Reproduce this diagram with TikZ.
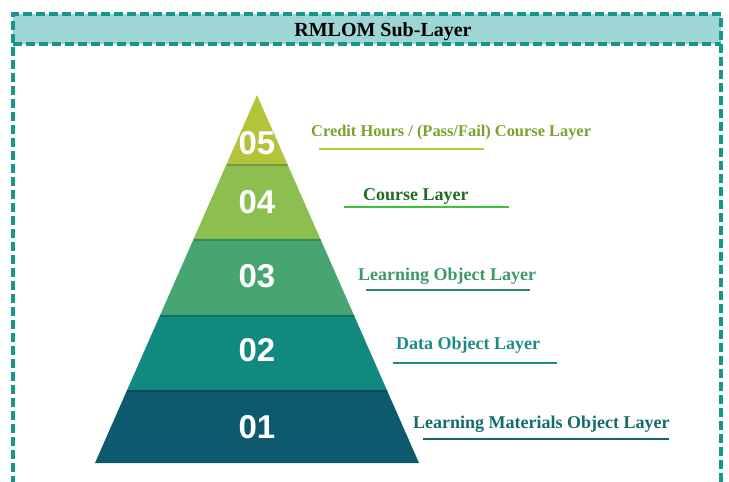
\documentclass[tikz,border=0pt]{standalone}
\usepackage{fontspec}
\setmainfont{Liberation Serif}
\newfontfamily\numfont{Liberation Sans}
\usetikzlibrary{calc}
\definecolor{frameteal}{HTML}{16978C}
\definecolor{headfill}{HTML}{9DD6D4}
\definecolor{cfive}{HTML}{B3C33A}
\definecolor{cfour}{HTML}{8CBE50}
\definecolor{cthree}{HTML}{46A571}
\definecolor{ctwo}{HTML}{12897F}
\definecolor{cone}{HTML}{0D5A6F}
\definecolor{tfive}{HTML}{7DA02D}
\definecolor{tfour}{HTML}{1F6E20}
\definecolor{tthree}{HTML}{3B9A68}
\definecolor{ttwo}{HTML}{1B8B87}
\definecolor{tone}{HTML}{126C6C}
\definecolor{ufive}{HTML}{A8D13A}
\definecolor{ufour}{HTML}{3CC23C}
\definecolor{uthree}{HTML}{2A8A68}
\definecolor{utwo}{HTML}{1A8A86}
\definecolor{uone}{HTML}{136464}
\tikzset{
  framedash/.style={draw=frameteal, line width=3.4pt, dash pattern=on 9pt off 4pt},
  numlabel/.style={text=white, font=\numfont\bfseries\fontsize{33}{33}\selectfont, inner sep=0pt},
  layerlabel/.style={anchor=base west, inner sep=0pt, font=\bfseries\fontsize{18}{18}\selectfont},
  uline/.style={line width=1.8pt},
  layershadow/.style={draw=black, opacity=0.18, line width=2.5pt}
}
\begin{document}
\begin{tikzpicture}[x=1pt,y=-1pt]
\useasboundingbox (0,0) rectangle (729,482);
% header
\fill[headfill] (13,14) rectangle (721,44);
\draw[framedash] (13,485) -- (13,14) -- (721,14) -- (721,485);
\draw[framedash] (13,44) -- (721,44);
\node[font=\bfseries\fontsize{20}{20}\selectfont, inner sep=0pt] (title) at (383,32) {RMLOM Sub-Layer};
% pyramid
\coordinate (apex) at (257,95);
\coordinate (bl) at (95,463);
\coordinate (br) at (419,463);
\coordinate (l1) at ($(apex)!0.1875!(bl)$);
\coordinate (r1) at ($(apex)!0.1875!(br)$);
\coordinate (l2) at ($(apex)!0.3913!(bl)$);
\coordinate (r2) at ($(apex)!0.3913!(br)$);
\coordinate (l3) at ($(apex)!0.5978!(bl)$);
\coordinate (r3) at ($(apex)!0.5978!(br)$);
\coordinate (l4) at ($(apex)!0.8016!(bl)$);
\coordinate (r4) at ($(apex)!0.8016!(br)$);
\fill[cfive] (apex) -- (r1) -- (l1) -- cycle;
\fill[cfour] (l1) -- (r1) -- (r2) -- (l2) -- cycle;
\fill[cthree] (l2) -- (r2) -- (r3) -- (l3) -- cycle;
\fill[ctwo] (l3) -- (r3) -- (r4) -- (l4) -- cycle;
\fill[cone] (l4) -- (r4) -- (br) -- (bl) -- cycle;
\begin{scope}
\clip (apex) -- (br) -- (bl) -- cycle;
\draw[layershadow] ($(l1)+(0,1.2)$) -- ($(r1)+(2,1.2)$);
\draw[layershadow] ($(l2)+(0,1.2)$) -- ($(r2)+(2,1.2)$);
\draw[layershadow] ($(l3)+(0,1.2)$) -- ($(r3)+(2,1.2)$);
\draw[layershadow] ($(l4)+(0,1.2)$) -- ($(r4)+(2,1.2)$);
\end{scope}
\node[numlabel] (n5) at (257,143) {05};
\node[numlabel] (n4) at (257,202) {04};
\node[numlabel] (n3) at (257,276) {03};
\node[numlabel] (n2) at (257,350) {02};
\node[numlabel] (n1) at (257,427) {01};
% labels
\node[layerlabel, text=tfive, font=\bfseries\fontsize{16.4}{16.4}\selectfont] (lab5) at (311,136) {Credit Hours / (Pass/Fail) Course Layer};
\node[layerlabel, text=tfour] (lab4) at (363,200) {Course Layer};
\node[layerlabel, text=tthree] (lab3) at (358,280) {Learning Object Layer};
\node[layerlabel, text=ttwo] (lab2) at (396,349) {Data Object Layer};
\node[layerlabel, text=tone] (lab1) at (413,428) {Learning Materials Object Layer};
% underlines
\draw[uline, ufive] (319,149) -- (484,149);
\draw[uline, ufour] (344,207) -- (509,207);
\draw[uline, uthree] (366,290) -- (530,290);
\draw[uline, utwo] (393,363) -- (557,363);
\draw[uline, uone] (423,439) -- (669,439);
\end{tikzpicture}
\end{document}
